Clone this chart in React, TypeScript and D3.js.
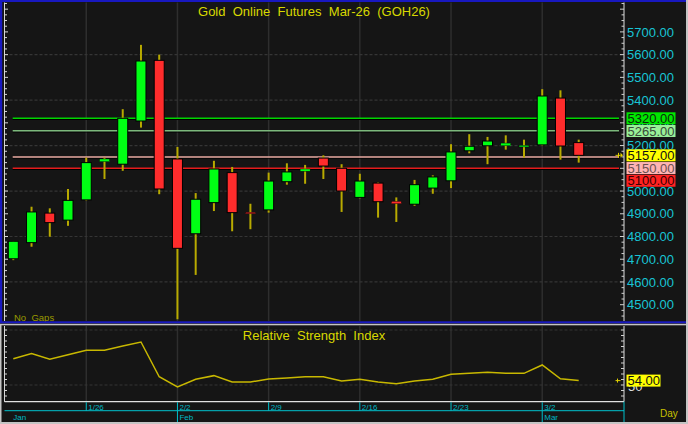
import React from 'react';
import * as d3 from 'd3';

const W = 688;
const H = 424;

// ---- Data ----
const openP = [4702, 4773, 4903, 4872, 4961, 5129, 5118, 5308, 5575, 5141, 4812, 4949, 5081, 4905, 4917, 5041, 5087, 5145, 5100, 4972, 5035, 4955, 4942, 5013, 5045, 5177, 5199, 5199, 5194, 5203, 5409, 5213];
const highP = [4780, 4931, 4924, 5009, 5147, 5147, 5360, 5643, 5600, 5194, 4991, 5133, 5106, 4944, 5081, 5122, 5115, 5157, 5118, 5076, 5038, 4972, 5049, 5069, 5206, 5250, 5238, 5245, 5226, 5448, 5443, 5226];
const lowP = [4696, 4755, 4799, 4847, 4958, 5053, 5089, 5279, 4986, 4436, 4631, 4912, 4823, 4832, 4905, 5028, 5032, 5053, 4908, 4968, 4883, 4864, 4935, 4988, 5013, 5166, 5118, 5182, 5147, 5200, 5138, 5125];
const closeP = [4779, 4908, 4861, 4959, 5125, 5141, 5320, 5572, 5009, 4748, 4964, 5097, 4905, 4902, 5044, 5084, 5097, 5110, 5000, 5044, 4953, 4944, 5028, 5062, 5172, 5197, 5220, 5211, 5201, 5418, 5198, 5157];
const rsiVals = [73.9, 78.5, 73.4, 77.5, 81.5, 81.5, 85.5, 89.1, 57.5, 48.2, 55.2, 58.5, 52.7, 52.7, 55.5, 56.4, 57.5, 57.5, 53.6, 55.2, 52.7, 51.2, 53.6, 55.2, 59.7, 60.6, 61.5, 60.6, 60.6, 68.2, 55.7, 54.0];

const weekIdx = [4, 9, 14, 19, 24, 29];
const weekLabels = ['1/26', '2/2', '2/9', '2/16', '2/23', '3/2'];
const monthIdx = [0, 9, 29];
const monthLabels = ['Jan', 'Feb', 'Mar'];

const priceTicks = [4500, 4600, 4700, 4800, 4900, 5000, 5100, 5200, 5300, 5400, 5500, 5600, 5700];
const priceGrid = [4600, 4800, 5000, 5200, 5400, 5600];
const levelValues = [5320, 5265, 5150, 5100];
const levelColors = ['#00d400', '#7cb87c', '#e8aaa2', '#e41c1c'];
const levelBoxColors = ['#00e800', '#98f098', '#ffb4b4', '#ff2222'];
const levelTextColors = ['#0c2c0c', '#3a4a3a', '#6a5050', '#3a0000'];
const lastPrice = 5157;
const rsiGrid = [50, 100];
const rsiLast = 54.0;

const FONT = "'Liberation Sans', Arial, sans-serif";

export default function App() {
  const n = openP.length;
  const x = d3.scaleLinear().domain([0, n - 1]).range([13.3, 578.7]);
  const y = d3.scaleLinear().domain([4500, 5700]).range([304.7, 31.9]);
  const yr = d3.scaleLinear().domain([50, 100]).range([385, 330]);

  const plotL = 4.5;
  const plotR = 624;
  const topT = 2.5;
  const topB = 321;
  const rsiT = 326;
  const rsiB = 401.7;
  const axY = 410.7;

  const bodyW = 10;

  // label boxes stacking (avoid overlap)
  const boxes = [
    { v: levelValues[0], bg: levelBoxColors[0], fg: levelTextColors[0] },
    { v: levelValues[1], bg: levelBoxColors[1], fg: levelTextColors[1] },
    { v: lastPrice, bg: '#ffff00', fg: '#111' },
    { v: levelValues[2], bg: levelBoxColors[2], fg: levelTextColors[2] },
    { v: levelValues[3], bg: levelBoxColors[3], fg: levelTextColors[3] },
  ]
    .map((b) => ({ ...b, yy: y(b.v) }))
    .sort((a, b) => a.yy - b.yy);
  for (let k = 1; k < boxes.length; k++) {
    if (boxes[k].yy - boxes[k - 1].yy < 12.7) boxes[k].yy = boxes[k - 1].yy + 12.7;
  }
  // axis labels fully covered by a label box are not drawn (as in the reference)
  const visibleTicks = priceTicks.filter((p) => !boxes.some((b) => Math.abs(b.yy - y(p)) < 4.5));

  const smallTicks = d3.range(4425, 5826, 25);
  const rsiTicks = d3.range(35, 101, 5);

  const rsiLine = d3
    .line<number>()
    .x((_, i) => x(i))
    .y((d) => yr(d))(rsiVals) as string;

  return (
    <svg width={W} height={H} style={{ display: 'block', position: 'absolute', left: 0, top: 0 }} fontFamily={FONT}>
      <rect x={0} y={0} width={W} height={H} fill="#151515" />

      {/* ===== Top panel ===== */}
      {weekIdx.map((wi) => (
        <line key={'vg' + wi} x1={x(wi)} x2={x(wi)} y1={topT} y2={topB} stroke="#2e2e2e" strokeWidth={1.5} />
      ))}
      {priceGrid.map((p) => (
        <line key={'hg' + p} x1={plotL} x2={plotR} y1={y(p)} y2={y(p)} stroke="#353535" strokeWidth={1.2} strokeDasharray="3,2" />
      ))}

      {/* level lines */}
      {levelValues.map((v, k) => (
        <g key={'lv' + v}>
          <line x1={12.7} x2={619} y1={y(v) + 1.2} y2={y(v) + 1.2} stroke="#000" strokeWidth={1} />
          <line x1={12.7} x2={619} y1={y(v)} y2={y(v)} stroke={levelColors[k]} strokeWidth={1.6} />
        </g>
      ))}

      {/* candles */}
      {openP.map((o, i) => {
        const c = closeP[i];
        const up = c >= o;
        const top = y(Math.max(o, c));
        const bot = y(Math.min(o, c));
        const h = Math.max(bot - top, 1.5);
        return (
          <g key={'c' + i}>
            <line x1={x(i)} x2={x(i)} y1={y(highP[i])} y2={y(lowP[i])} stroke="#b8aa00" strokeWidth={2} />
            <rect
              x={x(i) - bodyW / 2}
              y={h === 1.5 ? (top + bot) / 2 - 0.75 : top}
              width={bodyW}
              height={h}
              fill={up ? '#00ff14' : '#ff2c2c'}
              stroke="#000"
              strokeWidth={h < 3 ? 0.4 : 1}
            />
          </g>
        );
      })}

      {/* left axis */}
      <line x1={plotL} x2={plotL} y1={topT} y2={topB} stroke="#d8d8d8" strokeWidth={1} />
      {smallTicks.filter((t) => y(t) > topT && y(t) < topB).map((t) => (
        <line key={'lt' + t} x1={plotL} x2={plotL + (t % 100 === 0 ? 3.5 : 2.5)} y1={y(t)} y2={y(t)} stroke="#d8d8d8" strokeWidth={1} />
      ))}

      {/* right axis */}
      <line x1={plotR} x2={plotR} y1={topT} y2={topB} stroke="#e0e0e0" strokeWidth={1} />
      {smallTicks.filter((t) => y(t) > topT && y(t) < topB).map((t) => (
        <line key={'rt' + t} x1={plotR - (t % 100 === 0 ? 4 : 2.5)} x2={plotR} y1={y(t)} y2={y(t)} stroke="#d0d0d0" strokeWidth={1} />
      ))}
      {visibleTicks.map((p) => (
        <text key={'pl' + p} x={627} y={y(p)} dy="0.36em" fontSize={13} fill="#18c4d4">
          {p.toFixed(2)}
        </text>
      ))}

      {/* label boxes */}
      {boxes.map((b) => (
        <g key={'bx' + b.v}>
          <rect x={626.5} y={b.yy - 6} width={49} height={12} fill={b.bg} />
          <text x={627.5} y={b.yy} dy="0.36em" fontSize={13} fill={b.fg}>
            {b.v.toFixed(2)}
          </text>
        </g>
      ))}

      {/* last price arrow */}
      <g stroke="#e0d000" strokeWidth={1}>
        <line x1={615.5} x2={620.5} y1={y(lastPrice)} y2={y(lastPrice)} />
        <line x1={618.5} x2={618.5} y1={y(lastPrice) - 2.5} y2={y(lastPrice) + 2.5} />
      </g>
      <path d={`M620.5,${y(lastPrice) - 2.5} L623,${y(lastPrice)} L620.5,${y(lastPrice) + 2.5} Z`} fill="#e0d000" />

      {/* title */}
      <text x={314} y={11} dy="0.36em" textAnchor="middle" fontSize={13} fill="#d8d800" style={{ whiteSpace: 'pre' }}>
        {'Gold  Online  Futures  Mar-26  (GOH26)'}
      </text>
      <text x={14} y={317.5} dy="0.36em" fontSize={9.5} fill="#9a9a00" style={{ whiteSpace: 'pre' }}>
        {'No  Gaps'}
      </text>

      {/* panel frame */}
      <rect x={0} y={0} width={W} height={2} fill="#1818c0" />
      <rect x={0} y={0} width={2.2} height={323} fill="#1818c0" />
      <rect x={0} y={321.3} width={686} height={2} fill="#1818c0" />
      <rect x={0} y={323.8} width={W} height={1.5} fill="#c4c4c4" />

      {/* ===== RSI panel ===== */}
      {weekIdx.map((wi) => (
        <line key={'rvg' + wi} x1={x(wi)} x2={x(wi)} y1={rsiT} y2={rsiB} stroke="#2e2e2e" strokeWidth={1.5} />
      ))}
      {rsiGrid.map((g) => (
        <line key={'rhg' + g} x1={plotL} x2={plotR} y1={yr(g)} y2={yr(g)} stroke="#353535" strokeWidth={1.2} strokeDasharray="3,2" />
      ))}
      <path d={rsiLine} fill="none" stroke="#c8b800" strokeWidth={1.5} />

      <text x={314} y={335} dy="0.36em" textAnchor="middle" fontSize={13} fill="#d8d800" style={{ whiteSpace: 'pre' }}>
        {'Relative  Strength  Index'}
      </text>

      <line x1={plotL} x2={plotL} y1={rsiT} y2={rsiB} stroke="#d8d8d8" strokeWidth={1} />
      {rsiTicks.map((t) => (
        <line key={'rlt' + t} x1={plotL} x2={plotL + 2.5} y1={yr(t)} y2={yr(t)} stroke="#d8d8d8" strokeWidth={1} />
      ))}
      <line x1={plotR} x2={plotR} y1={rsiT} y2={rsiB} stroke="#e0e0e0" strokeWidth={1} />
      {rsiTicks.map((t) => (
        <line key={'rrt' + t} x1={plotR - 3} x2={plotR} y1={yr(t)} y2={yr(t)} stroke="#d0d0d0" strokeWidth={1} />
      ))}
      <line x1={plotL} x2={plotR} y1={rsiB} y2={rsiB} stroke="#e0e0e0" strokeWidth={1.2} />

      <text x={628} y={yr(50) + 1} dy="0.36em" fontSize={13} fill="#dcdcdc">
        50
      </text>
      <rect x={626.5} y={yr(rsiLast) - 6} width={34} height={12} fill="#ffff00" />
      <text x={627.5} y={yr(rsiLast)} dy="0.36em" fontSize={13} fill="#111">
        {rsiLast.toFixed(2)}
      </text>
      <g stroke="#e0d000" strokeWidth={1}>
        <line x1={615.5} x2={620.5} y1={yr(rsiLast)} y2={yr(rsiLast)} />
        <line x1={617.5} x2={617.5} y1={yr(rsiLast) - 2} y2={yr(rsiLast) + 2} />
      </g>

      {/* ===== Date axis ===== */}
      <line x1={plotL} x2={plotR} y1={axY} y2={axY} stroke="#00c0cc" strokeWidth={1} />
      {weekIdx.map((wi, k) => (
        <g key={'wk' + wi}>
          <line x1={x(wi)} x2={x(wi)} y1={rsiB + 0.5} y2={axY} stroke="#00c0cc" strokeWidth={1} />
          <text x={x(wi) + 2} y={407} dy="0.36em" fontSize={8} fill="#00b8c4">
            {weekLabels[k]}
          </text>
        </g>
      ))}
      {monthIdx.map((mi, k) => (
        <g key={'mo' + mi}>
          {mi > 0 && <line x1={x(mi)} x2={x(mi)} y1={axY} y2={H} stroke="#00c0cc" strokeWidth={1} />}
          <text x={x(mi) + (mi > 0 ? 2 : 0)} y={417} dy="0.36em" fontSize={8} fill="#00b8c4">
            {monthLabels[k]}
          </text>
        </g>
      ))}
      <line x1={plotR} x2={plotR} y1={rsiB} y2={H} stroke="#00c0cc" strokeWidth={1} />
      <text x={660} y={413} dy="0.36em" fontSize={10} fill="#c8c000">
        Day
      </text>

      {/* outer light border */}
      <rect x={0} y={325} width={1.5} height={H - 325} fill="#c4c4c4" />
      <rect x={0} y={H - 2} width={W} height={2} fill="#c4c4c4" />
      <rect x={W - 2} y={0} width={2} height={H} fill="#c4c4c4" />
    </svg>
  );
}
